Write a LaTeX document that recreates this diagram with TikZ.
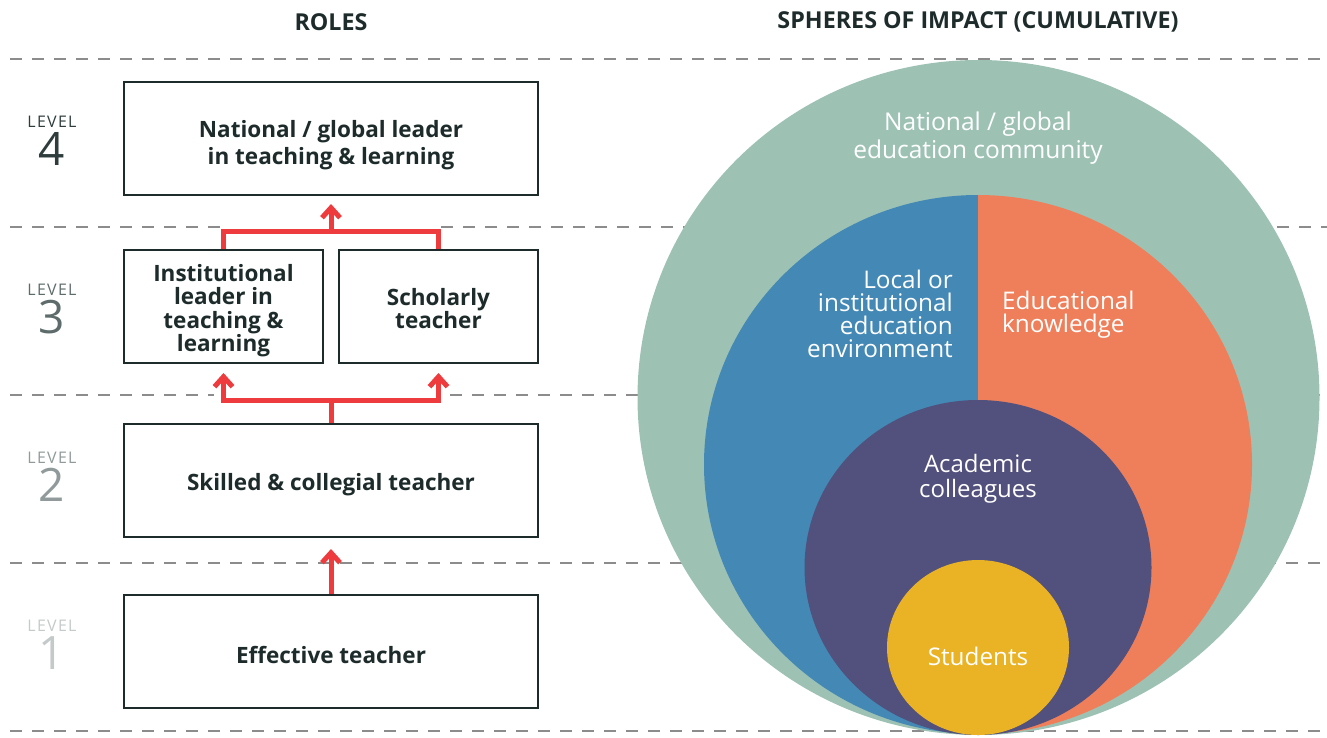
\documentclass[tikz,border=0pt]{standalone}
\usepackage{fontspec}
\setmainfont{Open Sans}
\usetikzlibrary{arrows.meta}
\definecolor{dark}{HTML}{1E2B2B}
\definecolor{dashgray}{HTML}{8C8C8C}
\definecolor{arrowred}{HTML}{EE3B3D}
\definecolor{teal}{HTML}{9DC2B4}
\definecolor{blueish}{HTML}{4489B5}
\definecolor{orangeish}{HTML}{EF7F5A}
\definecolor{purpleish}{HTML}{52507D}
\definecolor{yellowish}{HTML}{E9B325}
\definecolor{lv4}{HTML}{2E3C3C}
\definecolor{lv3}{HTML}{5E6B6B}
\definecolor{lv2}{HTML}{909A9A}
\definecolor{lv1}{HTML}{C4C9C9}
\tikzset{
  dashline/.style={draw=dashgray, line width=1.8pt, dash pattern=on 12pt off 10pt},
  rolebox/.style={draw=dark, line width=2pt, fill=white, inner sep=0pt},
  roletext/.style={align=center, text=dark, font=\bfseries\fontsize{22.5}{27}\selectfont, inner sep=0pt},
  redline/.style={draw=arrowred, line width=5pt, line join=miter},
  redarrow/.style={redline, -{Straight Barb[length=10pt,width=18pt,line join=miter]}},
  title/.style={text=dark, font=\bfseries\fontsize{23.3}{26}\selectfont},
  levelword/.style={font=\fontsize{16}{18}\selectfont\addfontfeatures{LetterSpace=8}},
  levelnum/.style={font=\fontsize{46}{50}\selectfont},
  spheretext/.style={text=white, font=\fontsize{24.3}{23}\selectfont, inner sep=0pt}
}
\begin{document}
\begin{tikzpicture}[x=1pt,y=-1pt]
\useasboundingbox (0,0) rectangle (1327,738);
% dashed level separators
\draw[dashline] (10,59) -- (1327,59);
\draw[dashline] (10,227) -- (222,227);
\draw[dashline] (441,227) -- (1327,227);
\draw[dashline] (10,395) -- (214,395);
\draw[dashline] (450,395) -- (1327,395);
\draw[dashline] (10,563) -- (1327,563);
\draw[dashline] (10,731) -- (1327,731);
% level labels
\node[levelword, text=lv4] (l4w) at (52,122) {LEVEL};
\node[levelnum, text=lv4] (l4n) at (52,149) {4};
\node[levelword, text=lv3] (l3w) at (52,290) {LEVEL};
\node[levelnum, text=lv3] (l3n) at (52,317) {3};
\node[levelword, text=lv2] (l2w) at (52,458) {LEVEL};
\node[levelnum, text=lv2] (l2n) at (52,485) {2};
\node[levelword, text=lv1] (l1w) at (52,626) {LEVEL};
\node[levelnum, text=lv1] (l1n) at (52,653) {1};
% role boxes
\node[rolebox, minimum width=414pt, minimum height=113pt] (b4) at (331,138.5) {};
\node[rolebox, minimum width=199pt, minimum height=113pt] (b3a) at (223.5,306.5) {};
\node[rolebox, minimum width=199pt, minimum height=113pt] (b3b) at (438.5,306.5) {};
\node[rolebox, minimum width=414pt, minimum height=113pt] (b2) at (331,480.5) {};
\node[rolebox, minimum width=414pt, minimum height=113pt] (b1) at (331,651.5) {};
\node[roletext] (b4t) at ([yshift=-7pt]b4.center) {National / global leader\\in teaching \& learning};
\node[roletext, font=\bfseries\fontsize{22.5}{23.5}\selectfont] (b3at) at ([yshift=-4pt]b3a.center) {Institutional\\leader in\\teaching \&\\learning};
\node[roletext, font=\bfseries\fontsize{22.5}{23.5}\selectfont] (b3bt) at ([yshift=-2pt]b3b.center) {Scholarly\\teacher};
\node[roletext] (b2t) at ([yshift=-4pt]b2.center) {Skilled \& collegial teacher};
\node[roletext] (b1t) at ([yshift=-3pt]b1.center) {Effective teacher};
% arrows
\coordinate (j4) at (331,231);
\coordinate (j3) at (331,400);
\draw[redline] (b3a.north) |- (j4) -| (b3b.north);
\draw[redarrow, shorten >=8pt] (j4) -- (b4.south);
\draw[redline] (b2.north) -- (j3);
\draw[redarrow, shorten >=9pt] (j3) -| (b3a.south);
\draw[redarrow, shorten >=9pt] (j3) -| (b3b.south);
\draw[redarrow, shorten >=11pt] (b1.north) -- (b2.south);
% spheres
\fill[teal] (978.5,397.5) ellipse [x radius=341, y radius=337.5];
\fill[blueish] (978,195) arc[start angle=270, end angle=90, x radius=274, y radius=269.5] -- cycle;
\fill[orangeish] (978,195) arc[start angle=-90, end angle=90, x radius=274, y radius=269.5] -- cycle;
\fill[purpleish] (978,567.5) ellipse [x radius=173.5, y radius=167.5];
\fill[yellowish] (978,647.5) ellipse [x radius=91, y radius=87.5];
\node[spheretext, align=center, font=\fontsize{24.5}{28}\selectfont] (s1) at (978,138) {National / global\\education community};
\node[spheretext, align=right, anchor=east] (s2) at (953,313.5) {Local or\\institutional\\education\\environment};
\node[spheretext, align=left, anchor=west] (s3) at (1002,315) {Educational\\knowledge};
\node[spheretext, align=center, font=\fontsize{24}{25}\selectfont] (s4) at (978,479) {Academic\\colleagues};
\node[spheretext] (s5) at (978,656.5) {Students};
% titles
\node[title] (t1) at (331,22) {ROLES};
\node[title] (t2) at (978,22) {SPHERES OF IMPACT (CUMULATIVE)};
\end{tikzpicture}
\end{document}
